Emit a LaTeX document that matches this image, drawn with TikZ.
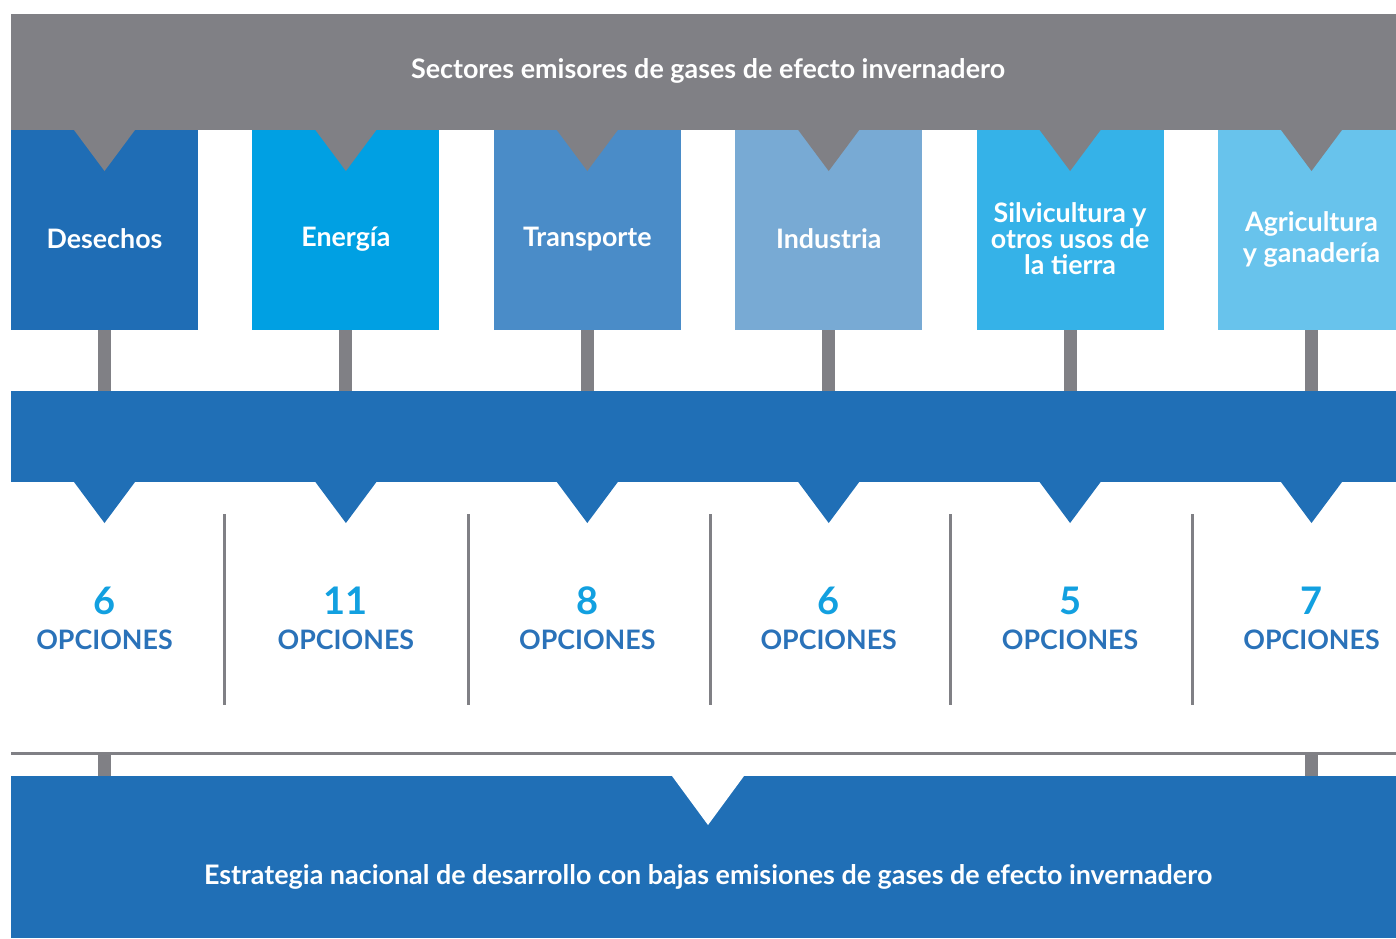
\documentclass[tikz,border=0pt]{standalone}
\usepackage{fontspec}
\setmainfont{Lato}
\usepackage{xcolor}
\definecolor{SectorGray}{HTML}{808085}
\definecolor{MainBlue}{HTML}{206FB6}
\definecolor{BoxA}{HTML}{1F6DB5}
\definecolor{BoxB}{HTML}{00A0E3}
\definecolor{BoxC}{HTML}{4A8CC8}
\definecolor{BoxD}{HTML}{78AAD4}
\definecolor{BoxE}{HTML}{35B2E8}
\definecolor{BoxF}{HTML}{68C3EC}
\definecolor{NumBlue}{HTML}{12A0E0}
\definecolor{OptBlue}{HTML}{2A72B9}
\tikzset{
  sectorbox/.style={minimum width=187pt,minimum height=200pt,inner sep=0pt},
  sectortext/.style={align=center,font=\fontsize{26.8}{26}\selectfont\bfseries,text=white},
  numtext/.style={font=\fontsize{38}{40}\selectfont\bfseries,text=NumBlue},
  opttext/.style={font=\fontsize{26.8}{30}\selectfont\bfseries,text=OptBlue},
  link/.style={SectorGray,line width=13pt},
  sepline/.style={SectorGray,line width=3pt}
}

\begin{document}
\begin{tikzpicture}[x=1pt,y=-1pt,every node/.style={text=white}]
\useasboundingbox (0,0) rectangle (1396,938);
\fill[SectorGray] (11,14) rectangle (1396,130);
\node[font=\fontsize{26.9}{30}\selectfont\bfseries] (title) at (708,71) {Sectores emisores de gases de efecto invernadero};
\node[fill=MainBlue,minimum width=1385pt,minimum height=91pt,inner sep=0pt] (bar) at (703.5,436.5) {};
\coordinate (ruleL) at (11,753);
\coordinate (ruleR) at (1396,753);
\node[fill=MainBlue,minimum width=1385pt,minimum height=162pt,inner sep=0pt] (goal) at (703.5,857) {};
\foreach \i/\name/\col/\num in {1/Desechos/BoxA/6,2/Energía/BoxB/11,3/Transporte/BoxC/8,4/Industria/BoxD/6,5/{Silvicultura y\\otros usos de\\la tierra}/BoxE/5,6/{Agricultura\\[5pt]y ganadería}/BoxF/7}{
  \pgfmathsetmacro{\x}{104.5+241.4*(\i-1)}
  \node[sectorbox,fill=\col] (s\i) at (\x,230) {};
  \fill[SectorGray] ({\x-30.5},130) -- (\x,171) -- ({\x+30.5},130) -- cycle;
  \node[sectortext] (t\i) at (\x,239) {\name};
  \draw[link] (s\i.south) -- (s\i.south |- bar.north);
  \fill[MainBlue] ({\x-30.5},482) -- (\x,523) -- ({\x+30.5},482) -- cycle;
  \node[numtext] (n\i) at (\x,601) {\num};
  \node[opttext] (o\i) at (\x,640) {OPCIONES};
}
\foreach \x in {224,468,710,950,1192}
  \draw[sepline] (\x,514) -- (\x,705);
\draw[sepline] (ruleL) -- (ruleR);
\draw[link] (s1 |- ruleL) -- (s1 |- goal.north);
\draw[link] (s6 |- ruleL) -- (s6 |- goal.north);
\fill[white] (672,776) -- (708,825) -- (744,776) -- cycle;
\node[font=\fontsize{26.9}{30}\selectfont\bfseries] (goaltext) at (708,877) {Estrategia nacional de desarrollo con bajas emisiones de gases de efecto invernadero};
\end{tikzpicture}
\end{document}
